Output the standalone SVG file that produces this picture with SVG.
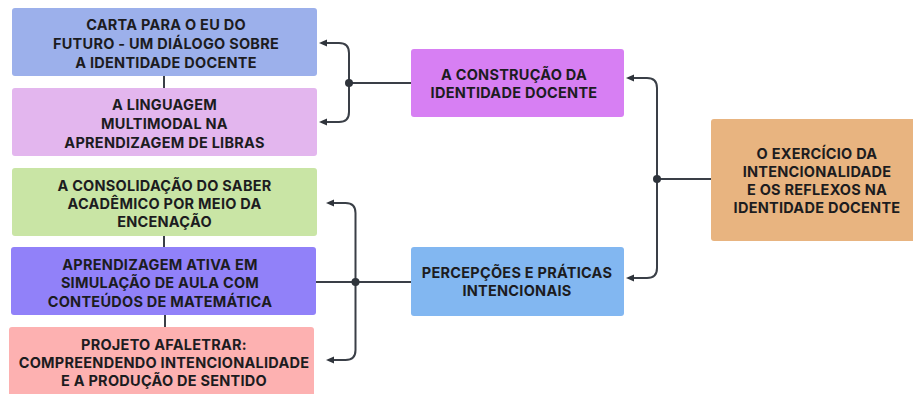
<svg xmlns="http://www.w3.org/2000/svg" width="913" height="394" viewBox="0 0 913 394">
<defs>
<style>
.box{stroke:none}
.t{font-family:Inter,"Liberation Sans",sans-serif;font-weight:700;font-size:14.5px;letter-spacing:0.25px;fill:#1c1c1f;text-anchor:middle}
.c{fill:none;stroke:#3a3f47;stroke-width:2;stroke-linecap:butt;stroke-linejoin:round}
.d{fill:#2f343b}
</style>
<marker id="ah" viewBox="0 0 8 8" refX="1" refY="4" markerWidth="8" markerHeight="8" orient="auto" markerUnits="userSpaceOnUse">
<path d="M8,4 L0,0.5 L0,7.5 Z" fill="#2f343b"/>
</marker>
</defs>
<rect width="913" height="394" fill="#ffffff"/>

<g id="connectors">
<line class="c" x1="164" y1="76" x2="164" y2="88"/>
<line class="c" x1="164" y1="236" x2="164" y2="247"/>
<line class="c" x1="165" y1="315" x2="165" y2="327"/>
<path class="c" d="M349,83 V53 Q349,43 339,43 H326" marker-end="url(#ah)"/>
<path class="c" d="M349,83 V112 Q349,122 339,122 H326" marker-end="url(#ah)"/>
<line class="c" x1="349" y1="83" x2="411" y2="83"/>
<circle class="d" cx="349" cy="83" r="4"/>
<path class="c" d="M355.5,282 V213 Q355.5,203 345.5,203 H333" marker-end="url(#ah)"/>
<path class="c" d="M355.5,282 V350 Q355.5,360 345.5,360 H333" marker-end="url(#ah)"/>
<line class="c" x1="316" y1="282" x2="411" y2="282"/>
<circle class="d" cx="355.5" cy="282" r="4"/>
<path class="c" d="M657,179 V88 Q657,78 647,78 H633" marker-end="url(#ah)"/>
<path class="c" d="M657,179 V268 Q657,278 647,278 H633" marker-end="url(#ah)"/>
<line class="c" x1="657" y1="179" x2="711" y2="179"/>
<circle class="d" cx="657" cy="179" r="4"/>
</g>

<g id="n1">
<rect class="box" x="12" y="8" width="305" height="68" rx="3" fill="#9cb0eb"/>
<text class="t" x="166" y="29.5">CARTA PARA O EU DO</text>
<text class="t" x="166" y="48.5">FUTURO - UM DIÁLOGO SOBRE</text>
<text class="t" x="166" y="67.5">A IDENTIDADE DOCENTE</text>
</g>
<g id="n2">
<rect class="box" x="12" y="88" width="305" height="68" rx="3" fill="#e3b6ee"/>
<text class="t" x="164.5" y="110">A LINGUAGEM</text>
<text class="t" x="164.5" y="129">MULTIMODAL NA</text>
<text class="t" x="164.5" y="147.5">APRENDIZAGEM DE LIBRAS</text>
</g>
<g id="n3">
<rect class="box" x="12" y="168" width="305" height="68" rx="3" fill="#c9e5a5"/>
<text class="t" x="164.5" y="190.5">A CONSOLIDAÇÃO DO SABER</text>
<text class="t" x="164.5" y="208.5">ACADÊMICO POR MEIO DA</text>
<text class="t" x="164.5" y="226.5">ENCENAÇÃO</text>
</g>
<g id="n4">
<rect class="box" x="11" y="247" width="305" height="68" rx="3" fill="#9181f9"/>
<text class="t" x="160" y="270">APRENDIZAGEM ATIVA EM</text>
<text class="t" x="160" y="288">SIMULAÇÃO DE AULA COM</text>
<text class="t" x="160" y="306.5">CONTEÚDOS DE MATEMÁTICA</text>
</g>
<g id="n5">
<rect class="box" x="9" y="327" width="305" height="72" rx="3" fill="#fdb1b1"/>
<text class="t" x="164" y="350">PROJETO AFALETRAR:</text>
<text class="t" x="164" y="368">COMPREENDENDO INTENCIONALIDADE</text>
<text class="t" x="164" y="385.5">E A PRODUÇÃO DE SENTIDO</text>
</g>
<g id="n6">
<rect class="box" x="411" y="49" width="213" height="68" rx="3" fill="#d77ff3"/>
<text class="t" x="514" y="79.5">A CONSTRUÇÃO DA</text>
<text class="t" x="514" y="97.5">IDENTIDADE DOCENTE</text>
</g>
<g id="n7">
<rect class="box" x="411" y="247" width="213" height="69" rx="3" fill="#82b7f1"/>
<text class="t" x="517" y="278">PERCEPÇÕES E PRÁTICAS</text>
<text class="t" x="517" y="296">INTENCIONAIS</text>
</g>
<g id="n8">
<rect class="box" x="711" y="119" width="212" height="122" rx="3" fill="#e8b480"/>
<text class="t" x="817" y="158.5">O EXERCÍCIO DA</text>
<text class="t" x="817" y="176.5">INTENCIONALIDADE</text>
<text class="t" x="817" y="194.5">E OS REFLEXOS NA</text>
<text class="t" x="817" y="212.5">IDENTIDADE DOCENTE</text>
</g>
</svg>
